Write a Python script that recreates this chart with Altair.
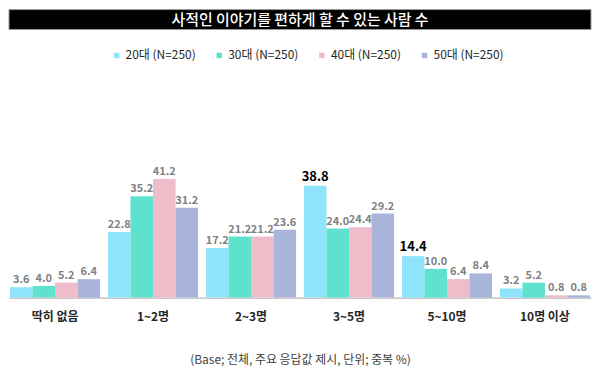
import altair as alt
import pandas as pd

categories = ["딱히 없음", "1~2명", "2~3명", "3~5명", "5~10명", "10명 이상"]
ages = ["20대 (N=250)", "30대 (N=250)", "40대 (N=250)", "50대 (N=250)"]
v20 = [3.6, 22.8, 17.2, 38.8, 14.4, 3.2]
v30 = [4.0, 35.2, 21.2, 24.0, 10.0, 5.2]
v40 = [5.2, 41.2, 21.2, 24.4, 6.4, 0.8]
v50 = [6.4, 31.2, 23.6, 29.2, 8.4, 0.8]
colors = ["#8FE3FA", "#5EE2CD", "#EFBDC9", "#A9B4DB"]
title_text = "사적인 이야기를 편하게 할 수 있는 사람 수"
footnote = "(Base; 전체, 주요 응답값 제시, 단위; 중복 %)"

FONT = "Noto Sans CJK KR"

rows = []
for age, vals in zip(ages, [v20, v30, v40, v50]):
    for c, v in zip(categories, vals):
        rows.append({"cat": c, "age": age, "value": v})
df = pd.DataFrame(rows)

W, H = 584, 289

x_axis = alt.Axis(
    title=footnote, labelAngle=0, ticks=False, labelPadding=14,
    labelFontSize=12, labelFontWeight="bold", labelColor="#262626", labelFont=FONT,
    domainColor="#A6A6A6", domainWidth=1,
    titleFontSize=12, titleFontWeight="normal", titleColor="#404040", titleFont=FONT,
    titlePadding=32,
)
x_scale = alt.Scale(domain=categories, paddingInner=0.08, paddingOuter=0.01)
y_scale = alt.Scale(domain=[0, 100])
off_scale = alt.Scale(domain=ages, paddingInner=0, paddingOuter=0)

base = alt.Chart(df)

bars = base.mark_bar().encode(
    x=alt.X("cat:N", scale=x_scale, axis=x_axis, sort=categories),
    xOffset=alt.XOffset("age:N", sort=ages, scale=off_scale),
    y=alt.Y("value:Q", scale=y_scale, axis=None),
    color=alt.Color(
        "age:N", sort=ages,
        scale=alt.Scale(domain=ages, range=colors),
        legend=alt.Legend(
            orient="none", legendX=102, legendY=40, direction="horizontal",
            title=None, symbolType="square", symbolSize=30, symbolStrokeWidth=0,
            labelFontSize=12, labelFont=FONT, labelColor="#262626",
            columnPadding=17, labelOffset=3,
        ),
    ),
)

hl = "datum.age == '20대 (N=250)' && (datum.cat == '3~5명' || datum.cat == '5~10명')"

labels = base.mark_text(baseline="bottom", dy=-2, fontWeight="bold", font=FONT).encode(
    x=alt.X("cat:N", scale=x_scale, axis=x_axis, sort=categories),
    xOffset=alt.XOffset("age:N", sort=ages, scale=off_scale),
    y=alt.Y("value:Q", scale=y_scale, axis=None),
    text=alt.Text("value:Q", format=".1f"),
    color=alt.condition(hl, alt.value("#000000"), alt.value("#808080")),
    size=alt.condition(hl, alt.value(13), alt.value(11)),
)

tdf = pd.DataFrame({"t": [title_text]})
title_box = alt.Chart(tdf).mark_rect(color="#000000", stroke="#9a9a9a", strokeWidth=1).encode(
    x=alt.value(0), x2=alt.value(W), y=alt.value(0), y2=alt.value(20)
)
title_lbl = alt.Chart(tdf).mark_text(color="#ffffff", fontSize=15, fontWeight=500, font=FONT).encode(
    text="t:N", x=alt.value(W / 2), y=alt.value(10)
)

chart = alt.layer(title_box, title_lbl, bars, labels).properties(
    width=W, height=H, padding=0
).configure_view(stroke=None).resolve_scale(color="independent")

chart.save("out.html", embed_options={"renderer": "svg", "actions": False})
